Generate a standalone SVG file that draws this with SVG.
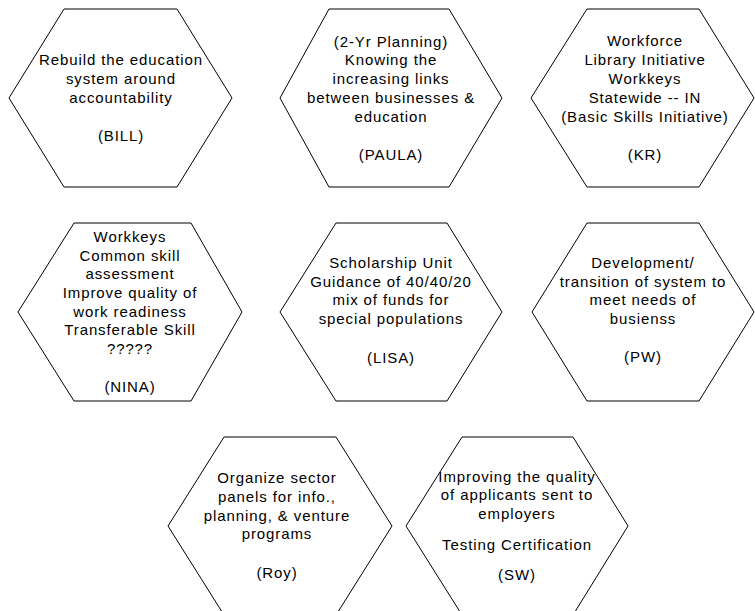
<svg xmlns="http://www.w3.org/2000/svg" width="755" height="611" viewBox="0 0 755 611">
<style>
.hex{fill:#fff;stroke:#000;stroke-width:1}
text{font-family:"Liberation Sans",Arial,sans-serif;font-size:15px;letter-spacing:0.9px;fill:#000;text-anchor:middle}
</style>
<rect width="755" height="611" fill="#fff"/>
<g id="connectors"></g>
<g id="bill">
<polygon class="hex" points="9,98 64,9 177,9 232,98 177,187 64,187"/>
<text x="121" y="65">Rebuild the education</text>
<text x="121" y="84">system around</text>
<text x="121" y="103">accountability</text>
<text x="121" y="141">(BILL)</text>
</g>
<g id="paula">
<polygon class="hex" points="280,98 329,9 449,9 502,98 449,187 329,187"/>
<text x="391" y="47">(2-Yr Planning)</text>
<text x="391" y="65">Knowing the</text>
<text x="391" y="84">increasing links</text>
<text x="391" y="103">between businesses &amp;</text>
<text x="391" y="122">education</text>
<text x="391" y="160">(PAULA)</text>
</g>
<g id="kr">
<polygon class="hex" points="531,98 587,9 699,9 754,98 699,187 587,187"/>
<text x="645" y="46">Workforce</text>
<text x="645" y="65">Library Initiative</text>
<text x="645" y="84">Workkeys</text>
<text x="645" y="103">Statewide -- IN</text>
<text x="645" y="122">(Basic Skills Initiative)</text>
<text x="645" y="160">(KR)</text>
</g>
<g id="nina">
<polygon class="hex" points="18,312 74,223 191,223 242,312 191,401 74,401"/>
<text x="130" y="242">Workkeys</text>
<text x="130" y="261">Common skill</text>
<text x="130" y="279">assessment</text>
<text x="130" y="298">Improve quality of</text>
<text x="130" y="317">work readiness</text>
<text x="130" y="335">Transferable Skill</text>
<text x="130" y="354">?????</text>
<text x="130" y="392">(NINA)</text>
</g>
<g id="lisa">
<polygon class="hex" points="280,312 336,223 447,223 502,312 447,401 336,401"/>
<text x="391" y="268">Scholarship Unit</text>
<text x="391" y="287">Guidance of 40/40/20</text>
<text x="391" y="305">mix of funds for</text>
<text x="391" y="324">special populations</text>
<text x="391" y="363">(LISA)</text>
</g>
<g id="pw">
<polygon class="hex" points="532,312 587,223 699,223 754,312 699,401 587,401"/>
<text x="643" y="268">Development/</text>
<text x="643" y="287">transition of system to</text>
<text x="643" y="305">meet needs of</text>
<text x="643" y="324">busienss</text>
<text x="643" y="362">(PW)</text>
</g>
<g id="roy">
<polygon class="hex" points="168,526 224,437 336,437 392,526 336,615 224,615"/>
<text x="277" y="483">Organize sector</text>
<text x="277" y="502">panels for info.,</text>
<text x="277" y="521">planning, &amp; venture</text>
<text x="277" y="539">programs</text>
<text x="277" y="578">(Roy)</text>
</g>
<g id="sw">
<polygon class="hex" points="406,526 462,437 573,437 628,526 573,615 462,615"/>
<text x="517" y="482">Improving the quality</text>
<text x="517" y="500">of applicants sent to</text>
<text x="517" y="519">employers</text>
<text x="517" y="550">Testing Certification</text>
<text x="517" y="580">(SW)</text>
</g>
</svg>
